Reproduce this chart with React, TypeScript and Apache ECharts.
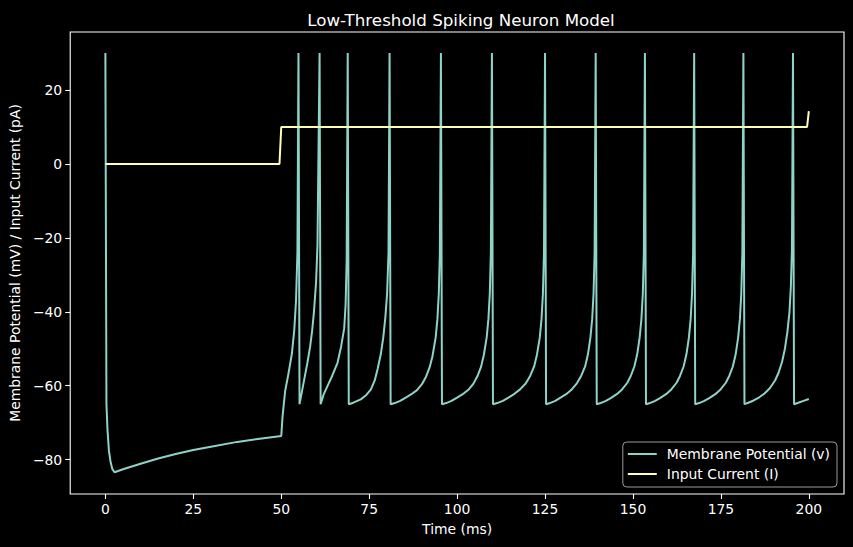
import React, { useEffect, useRef } from "react";
import * as echarts from "echarts";

const TITLE = "Low-Threshold Spiking Neuron Model";
const X_LABEL = "Time (ms)";
const Y_LABEL = "Membrane Potential (mV) / Input Current (pA)";
const V_NAME = "Membrane Potential (v)";
const I_NAME = "Input Current (I)";

const X_TICKS = [0, 25, 50, 75, 100, 125, 150, 175, 200];
const Y_TICKS = [-80, -60, -40, -20, 0, 20];

// Membrane potential (time ms, mV)
const membranePotential: [number, number][] = [
  [0, 30], [0.3, -65], [0.6, -72], [1.0, -77.5], [1.5, -80.8], [2.0, -82.6], [2.6, -83.4],
  [5, -82.6], [10, -81.1], [15, -79.7], [20, -78.5], [25, -77.4], [30, -76.5], [37.5, -75.2],
  [45, -74.2], [50, -73.6], [50.4, -68], [51.1, -61.5], [52, -57], [53, -51.5], [53.7, -45],
  [54.2, -37], [54.6, -24], [54.9, 30],
  [55.2, -65], [55.8, -62], [56.5, -58.5], [57.4, -54], [58.2, -49.5], [58.8, -45], [59.3, -40],
  [59.9, -32], [60.3, -22], [60.9, 30],
  [61.2, -65], [62, -62.5], [63.2, -60], [64.5, -57.3], [66, -53.8], [67, -49.5], [67.9, -44.5],
  [68.3, -38], [68.6, -26], [68.9, 30],
  [69.2, -65], [70.5, -64.6], [72.6, -63.7], [74.2, -62.5], [75.5, -61], [76.6, -58.5], [77.4, -55.5],
  [78.3, -51.5], [79, -47], [79.6, -41.5], [80.1, -35], [80.5, -24], [80.8, 30],
  [81.1, -65], [82.3, -64.7], [83.8, -64.1], [85.4, -63.2], [87, -62.3], [88.6, -61.2], [90, -59.6],
  [91.2, -57.5], [92.2, -55], [93, -52], [93.9, -47], [94.4, -42], [94.8, -35], [95.1, -24], [95.4, 30],
  [95.7, -65], [96.9, -64.7], [98.4, -64.1], [100, -63.2], [101.6, -62.3], [103.2, -61.1], [104.6, -59.5],
  [105.8, -57.4], [106.8, -54.9], [107.6, -51.7], [108.4, -47], [108.9, -42], [109.3, -35], [109.6, -24], [109.9, 30],
  [110.2, -65], [111.4, -64.7], [113, -64.1], [114.6, -63.2], [116.3, -62.2], [117.9, -61], [119.5, -59.4],
  [120.8, -57.3], [121.9, -54.8], [122.7, -51.6], [123.5, -47], [124, -42], [124.4, -35], [124.7, -24], [125.0, 30],
  [125.3, -65], [126.4, -64.7], [127.9, -64.1], [129.4, -63.2], [131, -62.3], [132.6, -61], [134.1, -59.3],
  [135.3, -57.3], [136.4, -54.8], [137.2, -51.5], [137.9, -47], [138.4, -42], [138.8, -35], [139.1, -24], [139.4, 30],
  [139.7, -65], [140.8, -64.7], [142.3, -64.1], [143.8, -63.3], [145.4, -62.3], [146.9, -61], [148.4, -59.2],
  [149.4, -57.3], [150.4, -54.8], [151.2, -51.5], [151.9, -47], [152.4, -42], [152.8, -35], [153.1, -24], [153.4, 30],
  [153.7, -65], [154.8, -64.7], [156.3, -64.1], [157.8, -63.3], [159.4, -62.3], [160.9, -61], [162.4, -59.2],
  [163.4, -57.3], [164.4, -54.8], [165.2, -51.5], [165.9, -47], [166.4, -42], [166.8, -35], [167.1, -24], [167.4, 30],
  [167.7, -65], [168.8, -64.7], [170.3, -64.1], [171.8, -63.3], [173.4, -62.3], [174.9, -61], [176.4, -59.2],
  [177.4, -57.3], [178.4, -54.8], [179.2, -51.5], [179.9, -47], [180.4, -42], [180.8, -35], [181.1, -24], [181.4, 30],
  [181.7, -65], [182.8, -64.6], [184.3, -64], [185.8, -63.2], [187.4, -62.1], [188.9, -60.7], [190.4, -58.6],
  [191.4, -56.5], [192.4, -53.5], [193.2, -50], [193.9, -45.5], [194.5, -40], [194.9, -33], [195.2, -23], [195.5, 30],
  [195.8, -65], [197, -64.6], [198.5, -64.1], [200, -63.6],
];

// Input current (time ms, pA)
const inputCurrent: [number, number][] = [
  [0, 0], [49.5, 0], [50, 10], [199.5, 10], [200, 14.3],
];

const FONT = "DejaVu Sans";
const FS = 13.9;

export default function App() {
  const ref = useRef<HTMLDivElement>(null);
  useEffect(() => {
    document.body.style.margin = "0";
    document.body.style.background = "#000";
    const chart = echarts.init(ref.current!, null, { renderer: "svg" });
    const axisText = { color: "#fff", fontFamily: FONT, fontSize: FS };
    chart.setOption({
      animation: false,
      backgroundColor: "#000",
      title: {
        text: TITLE,
        left: 456,
        textAlign: "center",
        top: 6,
        textStyle: { color: "#fff", fontFamily: FONT, fontSize: 16.7, fontWeight: "normal" },
      },
      grid: {
        left: 69, right: 9, top: 32, bottom: 53,
        show: true, borderColor: "#fff", borderWidth: 1.1, backgroundColor: "transparent",
      },
      xAxis: {
        type: "value", min: -10, max: 210,
        name: X_LABEL, nameLocation: "middle", nameGap: 28,
        nameTextStyle: { ...axisText },
        axisLine: { show: false, onZero: false },
        splitLine: { show: false },
        axisTick: { show: true, inside: false, length: 5, lineStyle: { color: "#fff", width: 1.1 }, customValues: X_TICKS },
        axisLabel: { ...axisText, margin: 8, customValues: X_TICKS, formatter: (v: number) => String(v) },
      },
      yAxis: {
        type: "value", min: -89.3, max: 35.7,
        name: Y_LABEL, nameLocation: "middle", nameGap: 46, nameRotate: 90,
        nameTextStyle: { ...axisText },
        axisLine: { show: false, onZero: false },
        splitLine: { show: false },
        axisTick: { show: true, inside: false, length: 5, lineStyle: { color: "#fff", width: 1.1 }, customValues: Y_TICKS },
        axisLabel: { ...axisText, margin: 8, customValues: Y_TICKS, formatter: (v: number) => (v < 0 ? "\u2212" + Math.abs(v) : String(v)) },
      },
      legend: {
        orient: "vertical",
        right: 16, bottom: 60,
        itemWidth: 29, itemHeight: 2, itemGap: 6,
        padding: [5, 7, 6, 5],
        backgroundColor: "#000",
        borderColor: "#999", borderWidth: 1, borderRadius: 4,
        textStyle: { color: "#fff", fontFamily: FONT, fontSize: FS, padding: [0, 0, 0, 5] },
        data: [{ name: V_NAME, icon: "rect" }, { name: I_NAME, icon: "rect" }],
      },
      series: [
        {
          name: V_NAME, type: "line", data: membranePotential,
          showSymbol: false, symbol: "none",
          lineStyle: { color: "#8dd3c7", width: 2 }, itemStyle: { color: "#8dd3c7" },
        },
        {
          name: I_NAME, type: "line", data: inputCurrent,
          showSymbol: false, symbol: "none",
          lineStyle: { color: "#feffb3", width: 2 }, itemStyle: { color: "#feffb3" },
        },
      ],
    });
    return () => chart.dispose();
  }, []);
  return <div ref={ref} style={{ width: 853, height: 547 }} />;
}
